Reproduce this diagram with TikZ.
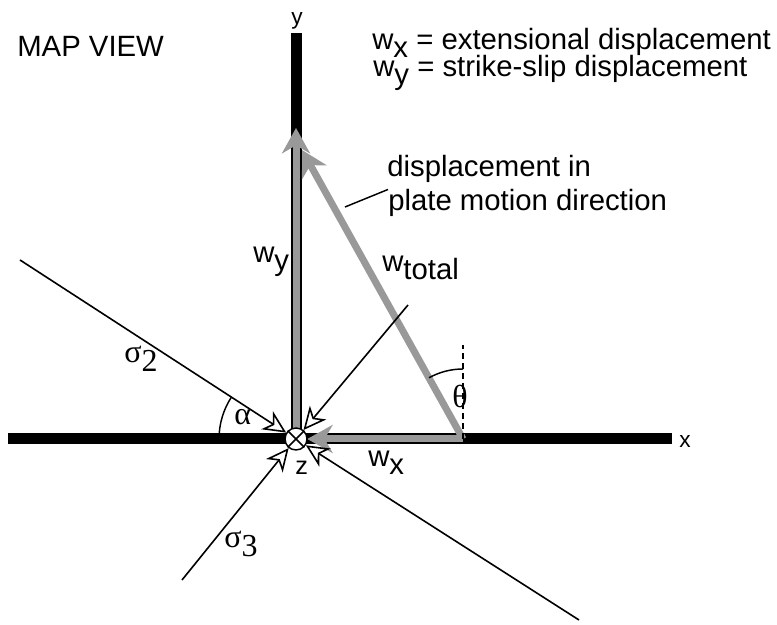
\documentclass[tikz,border=0pt]{standalone}
\usepackage{fontspec}
\setmainfont{Liberation Sans}
\newfontfamily\greekfont{Liberation Serif}
\usepackage{xcolor}
\usetikzlibrary{arrows.meta, positioning, calc}

\definecolor{slipgray}{gray}{0.6}
\newcommand{\lo}[1]{\raisebox{-0.27em}{#1}}

\begin{document}
\begin{tikzpicture}[
  x=0.75pt, y=0.75pt,
  font=\fontsize{22}{26}\selectfont,
  every node/.style={inner sep=0pt},
  fault/.style={line width=8.25pt},
  slip/.style={draw=slipgray, line width=5.25pt,
               -{Stealth[length=19pt, width=21pt, inset=6pt]}},
  stress/.style={line width=1.2pt,
                 -{Stealth[fill=white, length=17pt, width=16pt, inset=5pt]}},
  thin/.style={line width=1.1pt},
  greek/.style={font=\greekfont\fontsize{24}{28}\selectfont},
  axislbl/.style={font=\fontsize{17}{20}\selectfont},
  origin/.style={circle, draw, fill=white, line width=1.1pt, minimum size=16.5pt}
]
  \useasboundingbox (0,0) rectangle (777,624);

  \node[circle, minimum size=16.5pt] (O) at (296,185) {};
  \coordinate (xw) at (8,185);
  \coordinate (xe) at (672,185);
  \coordinate (ytop) at (296,591);
  \coordinate (bend) at (463,185);
  \coordinate (wytip) at (296,496);
  \coordinate (wttip) at (302,474);
  \coordinate (thtop) at (463,279);
  \coordinate (s2nw) at (20,364);
  \coordinate (s2se) at (579,4);
  \coordinate (s3ne) at (408,319);
  \coordinate (s3sw) at (182,44);
  \coordinate (lead) at (345,417);

  \draw[fault] (xw) -- (xe);
  \draw[fault] (O.center) -- (ytop);

  \draw[slip] (O.center) -- (wytip);
  \draw[slip] (bend) -- (O);
  \draw[slip] (bend) -- (wttip);

  \draw[thin, dash pattern=on 4.5pt off 3pt] (bend) -- (thtop);
  \draw[thin] ([shift={(90:70)}]bend) arc[start angle=90, end angle=119, radius=70];
  \draw[thin] ([shift={(180:77)}]O.center) arc[start angle=180, end angle=147, radius=77];

  \node[origin] (zc) at (O) {};
  \draw[thin] (zc.45) -- (zc.225) (zc.135) -- (zc.315);

  \draw[stress] (s2nw) -- (zc);
  \draw[stress] (s2se) -- (zc);
  \draw[stress] (s3ne) -- (zc);
  \draw[stress] (s3sw) -- (zc);

  \node[anchor=base west] (mapview) at (17,567) {MAP VIEW};
  \node[anchor=base west] (legx) at (372,574) {w\lo{x} = extensional displacement};
  \node[anchor=base west] (legy) at (373,547) {w\lo{y} = strike-slip displacement};
  \node[anchor=base west] (disp1) at (387,447) {displacement in};
  \node[anchor=base west] (disp2) at (388,413) {plate motion direction};
  \draw[thin] (lead) -- (disp2.north west);

  \node[anchor=base west] (wylbl) at (253,361) {w\lo{y}};
  \node[anchor=base west] (wtlbl) at (382,352) {w\lo{total}};
  \node[anchor=base west] (wxlbl) at (368,157) {w\lo{x}};
  \node[anchor=base west, font=\fontsize{19}{22}\selectfont] (zlbl) at (295,149) {z};
  \node[anchor=base west, axislbl] (ylbl) at (291,599) {y};
  \node[anchor=base west, axislbl] (xlbl) at (679,176) {x};

  \node[anchor=base west, greek] (s2lbl) at (124,261) {σ\lo{2}};
  \node[anchor=base west, greek] (s3lbl) at (224,76) {σ\lo{3}};
  \node[anchor=base west, greek] (alpha) at (234,199) {α};
  \node[anchor=base west, greek] (theta) at (452,216) {θ};
\end{tikzpicture}
\end{document}
